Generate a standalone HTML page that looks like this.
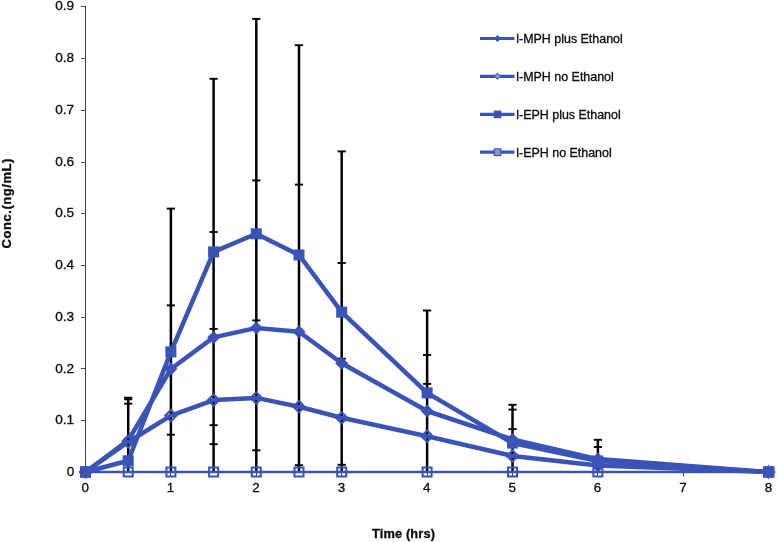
<!DOCTYPE html><html><head><meta charset="utf-8"><style>html,body{margin:0;padding:0;background:#fff}svg{display:block;will-change:transform;transform:translateZ(0)}text{font-family:"Liberation Sans",sans-serif;fill:#0a0a0a;stroke:#0a0a0a;stroke-width:0.3px}</style></head><body>
<svg width="777" height="542" viewBox="0 0 777 542">
<rect width="777" height="542" fill="#fff"/>
<g stroke="#444" stroke-width="1" fill="none">
<line x1="85.5" y1="6" x2="85.5" y2="472.5"/>
<line x1="85" y1="472.5" x2="769" y2="472.5"/>
<line x1="81" y1="472.5" x2="85.5" y2="472.5"/>
<line x1="81" y1="420.5" x2="85.5" y2="420.5"/>
<line x1="81" y1="368.5" x2="85.5" y2="368.5"/>
<line x1="81" y1="317.5" x2="85.5" y2="317.5"/>
<line x1="81" y1="265.5" x2="85.5" y2="265.5"/>
<line x1="81" y1="213.5" x2="85.5" y2="213.5"/>
<line x1="81" y1="162.5" x2="85.5" y2="162.5"/>
<line x1="81" y1="110.5" x2="85.5" y2="110.5"/>
<line x1="81" y1="58.5" x2="85.5" y2="58.5"/>
<line x1="81" y1="6.5" x2="85.5" y2="6.5"/>
<line x1="85.5" y1="472" x2="85.5" y2="476.5"/>
<line x1="170.5" y1="472" x2="170.5" y2="476.5"/>
<line x1="256.5" y1="472" x2="256.5" y2="476.5"/>
<line x1="341.5" y1="472" x2="341.5" y2="476.5"/>
<line x1="427.5" y1="472" x2="427.5" y2="476.5"/>
<line x1="512.5" y1="472" x2="512.5" y2="476.5"/>
<line x1="597.5" y1="472" x2="597.5" y2="476.5"/>
<line x1="683.5" y1="472" x2="683.5" y2="476.5"/>
<line x1="768.5" y1="472" x2="768.5" y2="476.5"/>
</g>
<text x="74.2" y="476.2" font-size="13.6" text-anchor="end">0</text>
<text x="74.2" y="424.4" font-size="13.6" text-anchor="end">0.1</text>
<text x="74.2" y="372.7" font-size="13.6" text-anchor="end">0.2</text>
<text x="74.2" y="320.9" font-size="13.6" text-anchor="end">0.3</text>
<text x="74.2" y="269.2" font-size="13.6" text-anchor="end">0.4</text>
<text x="74.2" y="217.4" font-size="13.6" text-anchor="end">0.5</text>
<text x="74.2" y="165.7" font-size="13.6" text-anchor="end">0.6</text>
<text x="74.2" y="114.0" font-size="13.6" text-anchor="end">0.7</text>
<text x="74.2" y="62.2" font-size="13.6" text-anchor="end">0.8</text>
<text x="74.2" y="10.4" font-size="13.6" text-anchor="end">0.9</text>
<text x="85.2" y="492.3" font-size="13.4" text-anchor="middle">0</text>
<text x="170.6" y="492.3" font-size="13.4" text-anchor="middle">1</text>
<text x="256.0" y="492.3" font-size="13.4" text-anchor="middle">2</text>
<text x="341.4" y="492.3" font-size="13.4" text-anchor="middle">3</text>
<text x="426.8" y="492.3" font-size="13.4" text-anchor="middle">4</text>
<text x="512.2" y="492.3" font-size="13.4" text-anchor="middle">5</text>
<text x="597.6" y="492.3" font-size="13.4" text-anchor="middle">6</text>
<text x="683.0" y="492.3" font-size="13.4" text-anchor="middle">7</text>
<text x="768.4" y="492.3" font-size="13.4" text-anchor="middle">8</text>
<text x="403.6" y="537.9" font-size="12.8" letter-spacing="0.15" font-weight="bold" text-anchor="middle">Time (hrs)</text>
<text transform="translate(10.6,203.2) rotate(-90)" font-size="13" letter-spacing="0.55" font-weight="bold" text-anchor="middle">Conc.(ng/mL)</text>
<g stroke="#000" fill="none">
<line x1="128.2" y1="397.7" x2="128.2" y2="472.0" stroke-width="2.5"/>
<line x1="124.1" y1="397.7" x2="132.3" y2="397.7" stroke-width="1.9"/>
<line x1="124.1" y1="399.3" x2="132.3" y2="399.3" stroke-width="1.9"/>
<line x1="124.1" y1="403.7" x2="132.3" y2="403.7" stroke-width="1.9"/>
<line x1="170.9" y1="208.6" x2="170.9" y2="472.0" stroke-width="2.5"/>
<line x1="166.8" y1="208.6" x2="175.0" y2="208.6" stroke-width="1.9"/>
<line x1="166.8" y1="305.4" x2="175.0" y2="305.4" stroke-width="1.9"/>
<line x1="166.8" y1="434.7" x2="175.0" y2="434.7" stroke-width="1.9"/>
<line x1="213.6" y1="78.8" x2="213.6" y2="472.0" stroke-width="2.5"/>
<line x1="209.5" y1="78.8" x2="217.7" y2="78.8" stroke-width="1.9"/>
<line x1="209.5" y1="232.0" x2="217.7" y2="232.0" stroke-width="1.9"/>
<line x1="209.5" y1="328.9" x2="217.7" y2="328.9" stroke-width="1.9"/>
<line x1="209.5" y1="425.2" x2="217.7" y2="425.2" stroke-width="1.9"/>
<line x1="209.5" y1="444.2" x2="217.7" y2="444.2" stroke-width="1.9"/>
<line x1="256.3" y1="18.9" x2="256.3" y2="472.0" stroke-width="2.5"/>
<line x1="252.2" y1="18.9" x2="260.4" y2="18.9" stroke-width="1.9"/>
<line x1="252.2" y1="180.4" x2="260.4" y2="180.4" stroke-width="1.9"/>
<line x1="252.2" y1="320.4" x2="260.4" y2="320.4" stroke-width="1.9"/>
<line x1="252.2" y1="450.3" x2="260.4" y2="450.3" stroke-width="1.9"/>
<line x1="299.0" y1="45.2" x2="299.0" y2="472.0" stroke-width="2.5"/>
<line x1="294.9" y1="45.2" x2="303.1" y2="45.2" stroke-width="1.9"/>
<line x1="294.9" y1="184.6" x2="303.1" y2="184.6" stroke-width="1.9"/>
<line x1="294.9" y1="465.2" x2="303.1" y2="465.2" stroke-width="1.9"/>
<line x1="341.7" y1="151.4" x2="341.7" y2="472.0" stroke-width="2.5"/>
<line x1="337.6" y1="151.4" x2="345.8" y2="151.4" stroke-width="1.9"/>
<line x1="337.6" y1="263.0" x2="345.8" y2="263.0" stroke-width="1.9"/>
<line x1="337.6" y1="358.7" x2="345.8" y2="358.7" stroke-width="1.9"/>
<line x1="337.6" y1="464.8" x2="345.8" y2="464.8" stroke-width="1.9"/>
<line x1="427.1" y1="310.5" x2="427.1" y2="472.0" stroke-width="2.5"/>
<line x1="423.0" y1="310.5" x2="431.2" y2="310.5" stroke-width="1.9"/>
<line x1="423.0" y1="355.0" x2="431.2" y2="355.0" stroke-width="1.9"/>
<line x1="423.0" y1="383.9" x2="431.2" y2="383.9" stroke-width="1.9"/>
<line x1="512.5" y1="404.8" x2="512.5" y2="472.0" stroke-width="2.5"/>
<line x1="508.4" y1="404.8" x2="516.6" y2="404.8" stroke-width="1.9"/>
<line x1="508.4" y1="409.6" x2="516.6" y2="409.6" stroke-width="1.9"/>
<line x1="508.4" y1="429.1" x2="516.6" y2="429.1" stroke-width="1.9"/>
<line x1="597.9" y1="439.8" x2="597.9" y2="472.0" stroke-width="2.5"/>
<line x1="593.8" y1="439.8" x2="602.0" y2="439.8" stroke-width="1.9"/>
<line x1="593.8" y1="447.0" x2="602.0" y2="447.0" stroke-width="1.9"/>
</g>
<polyline points="85.5,472.0 128.2,440.4 170.9,369.0 213.6,337.4 256.3,327.9 299.0,331.7 341.7,363.2 427.1,411.0 512.5,439.4 597.9,459.1 768.7,472.0" fill="none" stroke="#3953b7" stroke-width="4.5" stroke-linejoin="round"/>
<path d="M79.0,472.0 L85.5,465.5 L92.0,472.0 L85.5,478.5Z" fill="#3953b7"/>
<path d="M121.7,440.4 L128.2,433.9 L134.7,440.4 L128.2,446.9Z" fill="#3953b7"/>
<path d="M164.4,369.0 L170.9,362.5 L177.4,369.0 L170.9,375.5Z" fill="#3953b7"/>
<path d="M207.1,337.4 L213.6,330.9 L220.1,337.4 L213.6,343.9Z" fill="#3953b7"/>
<path d="M249.8,327.9 L256.3,321.4 L262.8,327.9 L256.3,334.4Z" fill="#3953b7"/>
<path d="M292.5,331.7 L299.0,325.2 L305.5,331.7 L299.0,338.2Z" fill="#3953b7"/>
<path d="M335.2,363.2 L341.7,356.7 L348.2,363.2 L341.7,369.7Z" fill="#3953b7"/>
<path d="M420.6,411.0 L427.1,404.5 L433.6,411.0 L427.1,417.5Z" fill="#3953b7"/>
<path d="M506.0,439.4 L512.5,432.9 L519.0,439.4 L512.5,445.9Z" fill="#3953b7"/>
<path d="M591.4,459.1 L597.9,452.6 L604.4,459.1 L597.9,465.6Z" fill="#3953b7"/>
<path d="M762.2,472.0 L768.7,465.5 L775.2,472.0 L768.7,478.5Z" fill="#3953b7"/>
<polyline points="85.5,472.0 128.2,442.0 170.9,415.6 213.6,400.1 256.3,397.9 299.0,406.7 341.7,417.8 427.1,436.2 512.5,455.9 597.9,465.5 768.7,472.0" fill="none" stroke="#3953b7" stroke-width="4.5" stroke-linejoin="round"/>
<path d="M79.9,472.0 L85.5,466.4 L91.1,472.0 L85.5,477.6Z" fill="none" stroke="#3953b7" stroke-width="2.1"/>
<path d="M128.2,437.4V439.8M128.2,444.2V446.6" stroke="#000" stroke-width="2.2" fill="none"/>
<path d="M122.6,442.0 L128.2,436.4 L133.8,442.0 L128.2,447.6Z" fill="none" stroke="#3953b7" stroke-width="2.1"/>
<path d="M170.9,411.0V413.4M170.9,417.8V420.2" stroke="#000" stroke-width="2.2" fill="none"/>
<path d="M165.3,415.6 L170.9,410.0 L176.5,415.6 L170.9,421.2Z" fill="none" stroke="#3953b7" stroke-width="2.1"/>
<path d="M213.6,395.5V397.9M213.6,402.3V404.7" stroke="#000" stroke-width="2.2" fill="none"/>
<path d="M208.0,400.1 L213.6,394.5 L219.2,400.1 L213.6,405.7Z" fill="none" stroke="#3953b7" stroke-width="2.1"/>
<path d="M256.3,393.3V395.7M256.3,400.1V402.5" stroke="#000" stroke-width="2.2" fill="none"/>
<path d="M250.7,397.9 L256.3,392.3 L261.9,397.9 L256.3,403.5Z" fill="none" stroke="#3953b7" stroke-width="2.1"/>
<path d="M299.0,402.1V404.5M299.0,408.9V411.3" stroke="#000" stroke-width="2.2" fill="none"/>
<path d="M293.4,406.7 L299.0,401.1 L304.6,406.7 L299.0,412.3Z" fill="none" stroke="#3953b7" stroke-width="2.1"/>
<path d="M341.7,413.2V415.6M341.7,420.0V422.4" stroke="#000" stroke-width="2.2" fill="none"/>
<path d="M336.1,417.8 L341.7,412.2 L347.3,417.8 L341.7,423.4Z" fill="none" stroke="#3953b7" stroke-width="2.1"/>
<path d="M427.1,431.6V434.0M427.1,438.4V440.8" stroke="#000" stroke-width="2.2" fill="none"/>
<path d="M421.5,436.2 L427.1,430.6 L432.7,436.2 L427.1,441.8Z" fill="none" stroke="#3953b7" stroke-width="2.1"/>
<path d="M512.5,451.3V453.7M512.5,458.1V460.5" stroke="#000" stroke-width="2.2" fill="none"/>
<path d="M506.9,455.9 L512.5,450.3 L518.1,455.9 L512.5,461.5Z" fill="none" stroke="#3953b7" stroke-width="2.1"/>
<path d="M597.9,460.9V463.3M597.9,467.7V470.1" stroke="#000" stroke-width="2.2" fill="none"/>
<path d="M592.3,465.5 L597.9,459.9 L603.5,465.5 L597.9,471.1Z" fill="none" stroke="#3953b7" stroke-width="2.1"/>
<path d="M763.1,472.0 L768.7,466.4 L774.3,472.0 L768.7,477.6Z" fill="none" stroke="#3953b7" stroke-width="2.1"/>
<polyline points="85.5,472.0 128.2,460.8 170.9,351.9 213.6,251.9 256.3,233.8 299.0,255.0 341.7,312.2 427.1,392.9 512.5,443.1 597.9,461.1 768.7,472.0" fill="none" stroke="#3953b7" stroke-width="4.5" stroke-linejoin="round"/>
<rect x="80.0" y="466.5" width="11.0" height="11.0" fill="#3953b7"/>
<rect x="122.7" y="455.3" width="11.0" height="11.0" fill="#3953b7"/>
<rect x="165.4" y="346.4" width="11.0" height="11.0" fill="#3953b7"/>
<rect x="208.1" y="246.4" width="11.0" height="11.0" fill="#3953b7"/>
<rect x="250.8" y="228.3" width="11.0" height="11.0" fill="#3953b7"/>
<rect x="293.5" y="249.5" width="11.0" height="11.0" fill="#3953b7"/>
<rect x="336.2" y="306.7" width="11.0" height="11.0" fill="#3953b7"/>
<rect x="421.6" y="387.4" width="11.0" height="11.0" fill="#3953b7"/>
<rect x="507.0" y="437.6" width="11.0" height="11.0" fill="#3953b7"/>
<rect x="592.4" y="455.6" width="11.0" height="11.0" fill="#3953b7"/>
<rect x="763.2" y="466.5" width="11.0" height="11.0" fill="#3953b7"/>
<polyline points="85.5,472.0 128.2,472.0 170.9,472.0 213.6,472.0 256.3,472.0 299.0,472.0 341.7,472.0 427.1,472.0 512.5,472.0 597.9,472.0 768.7,472.0" fill="none" stroke="#3953b7" stroke-width="2.6"/>
<rect x="81.0" y="467.5" width="9.0" height="9.0" fill="none" stroke="#3953b7" stroke-width="2"/>
<rect x="123.7" y="467.5" width="9.0" height="9.0" fill="none" stroke="#3953b7" stroke-width="2"/>
<rect x="166.4" y="467.5" width="9.0" height="9.0" fill="none" stroke="#3953b7" stroke-width="2"/>
<rect x="209.1" y="467.5" width="9.0" height="9.0" fill="none" stroke="#3953b7" stroke-width="2"/>
<rect x="251.8" y="467.5" width="9.0" height="9.0" fill="none" stroke="#3953b7" stroke-width="2"/>
<rect x="294.5" y="467.5" width="9.0" height="9.0" fill="none" stroke="#3953b7" stroke-width="2"/>
<rect x="337.2" y="467.5" width="9.0" height="9.0" fill="none" stroke="#3953b7" stroke-width="2"/>
<rect x="422.6" y="467.5" width="9.0" height="9.0" fill="none" stroke="#3953b7" stroke-width="2"/>
<rect x="508.0" y="467.5" width="9.0" height="9.0" fill="none" stroke="#3953b7" stroke-width="2"/>
<rect x="593.4" y="467.5" width="9.0" height="9.0" fill="none" stroke="#3953b7" stroke-width="2"/>
<rect x="764.2" y="467.5" width="9.0" height="9.0" fill="none" stroke="#3953b7" stroke-width="2"/>
<rect x="80.0" y="466.5" width="11.0" height="11.0" fill="#3953b7"/>
<rect x="763.2" y="466.5" width="11.0" height="11.0" fill="#3953b7"/>
<line x1="480" y1="38.5" x2="514.5" y2="38.5" stroke="#3953b7" stroke-width="3.2"/>
<path d="M493.9,38.5 L497.5,34.9 L501.1,38.5 L497.5,42.1Z" fill="#3953b7"/>
<text x="516.3" y="42.8" font-size="12.45">l-MPH plus Ethanol</text>
<line x1="480" y1="76.3" x2="514.5" y2="76.3" stroke="#3953b7" stroke-width="3.2"/>
<path d="M494.3,76.3 L497.5,73.1 L500.7,76.3 L497.5,79.5Z" fill="#8496d9" stroke="#3953b7" stroke-width="1"/>
<text x="516.3" y="80.6" font-size="12.45">l-MPH no Ethanol</text>
<line x1="480" y1="114.4" x2="514.5" y2="114.4" stroke="#3953b7" stroke-width="3.2"/>
<rect x="493.7" y="110.6" width="7.6" height="7.6" fill="#3953b7"/>
<text x="516.3" y="118.7" font-size="12.45">l-EPH plus Ethanol</text>
<line x1="480" y1="152.2" x2="514.5" y2="152.2" stroke="#3953b7" stroke-width="3.2"/>
<rect x="494.2" y="148.89999999999998" width="6.6" height="6.6" fill="#8496d9" stroke="#3953b7" stroke-width="1.2"/>
<text x="516.3" y="156.5" font-size="12.45">l-EPH no Ethanol</text>
</svg></body></html>
